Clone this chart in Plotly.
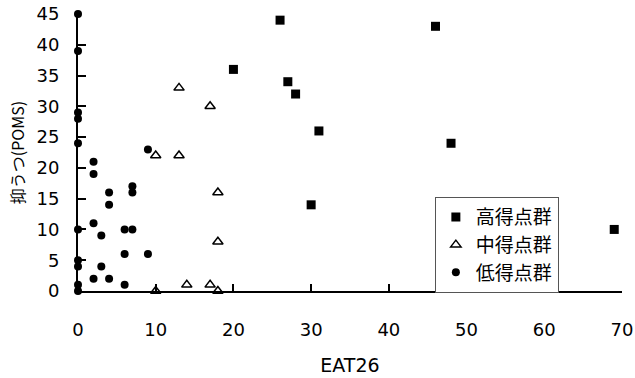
import plotly.graph_objects as go

# High-score group (高得点群)
high_x = [26, 46, 20, 27, 28, 31, 48, 30, 69]
high_y = [44, 43, 36, 34, 32, 26, 24, 14, 10]
# Middle-score group (中得点群)
mid_x = [13, 17, 10, 13, 18, 18, 14, 17, 10, 18]
mid_y = [33, 30, 22, 22, 16, 8, 1, 1, 0, 0]
# Low-score group (低得点群)
low_x = [0, 0, 0, 0, 0, 9, 2, 2, 4, 7, 7, 4, 2, 0, 6, 7, 3, 6, 9, 0, 0, 3, 2, 4, 6, 0, 0]
low_y = [45, 39, 29, 28, 24, 23, 21, 19, 16, 17, 16, 14, 11, 10, 10, 10, 9, 6, 6, 5, 4, 4, 2, 2, 1, 1, 0]

x_ticks = [0, 10, 20, 30, 40, 50, 60, 70]
y_ticks = [0, 5, 10, 15, 20, 25, 30, 35, 40, 45]

num_font = "DejaVu Sans, sans-serif"
cjk_font = "Noto Sans CJK JP"

fig = go.Figure()
fig.add_trace(go.Scatter(x=high_x, y=high_y, mode="markers", name="高得点群",
                         marker=dict(symbol="square", size=9, color="black"),
                         cliponaxis=False))
fig.add_trace(go.Scatter(x=mid_x, y=mid_y, mode="markers", name="中得点群",
                         marker=dict(symbol="triangle-up-open", size=9, color="black",
                                     line=dict(width=1.5, color="black")),
                         cliponaxis=False))
fig.add_trace(go.Scatter(x=low_x, y=low_y, mode="markers", name="低得点群",
                         marker=dict(symbol="circle", size=8, color="black"),
                         cliponaxis=False))

fig.update_layout(
    width=635, height=378,
    margin=dict(l=78, r=13, t=14, b=87),
    paper_bgcolor="white", plot_bgcolor="white",
    showlegend=True,
    legend=dict(x=0.656, y=0.339, xanchor="left", yanchor="top",
                bgcolor="white", bordercolor="#555", borderwidth=1,
                font=dict(family=cjk_font, size=19, color="black"),
                itemwidth=30, tracegroupgap=0),
    font=dict(family=num_font, color="black"),
)
fig.update_xaxes(range=[0, 70], tickvals=x_ticks, ticktext=[str(v) for v in x_ticks],
                 automargin=False,
                 showgrid=False, zeroline=False, showline=True, linecolor="black", linewidth=2,
                 ticks="inside", ticklen=7, tickwidth=2, tickcolor="black",
                 tickfont=dict(family=num_font, size=18, color="black"),
                 ticklabelstandoff=21,
                 title=dict(text="EAT26", font=dict(family=num_font, size=19, color="black"),
                            standoff=20))
fig.update_yaxes(range=[0, 45], tickvals=y_ticks, ticktext=[str(v) for v in y_ticks],
                 automargin=False,
                 showgrid=False, zeroline=False, showline=True, linecolor="black", linewidth=2,
                 ticks="inside", ticklen=8, tickwidth=2, tickcolor="black",
                 tickfont=dict(family=num_font, size=18, color="black"),
                 ticklabelstandoff=13,
                 title=dict(text="抑うつ(POMS)", font=dict(family=cjk_font, size=16, color="black"),
                            standoff=8))

fig.write_html("out.html")
